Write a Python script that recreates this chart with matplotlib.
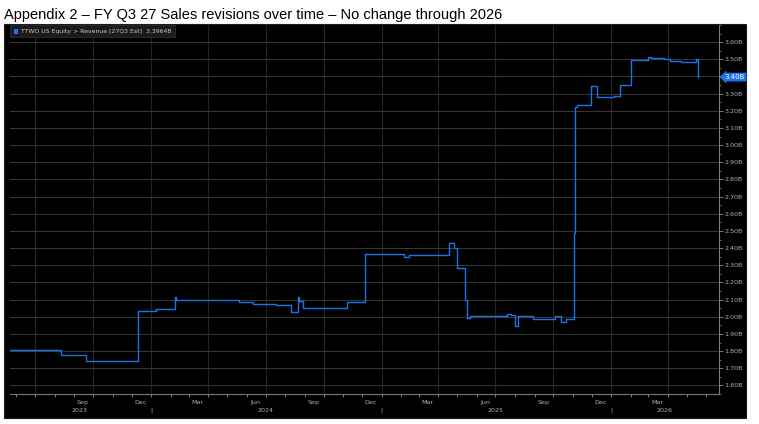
import pandas as pd
import numpy as np
import matplotlib
matplotlib.use("Agg")
import matplotlib.pyplot as plt
import matplotlib.dates as mdates
from matplotlib.patches import Rectangle

# revision history of the FY Q3 27 revenue estimate (USD bn)
rev_dates = ["2023-05-22", "2023-08-11", "2023-09-20", "2023-12-12", "2024-01-09",
             "2024-02-08", "2024-02-10", "2024-05-20", "2024-06-11", "2024-07-17",
             "2024-08-10", "2024-08-21", "2024-08-23", "2024-08-29", "2024-11-07",
             "2024-12-05", "2025-02-06", "2025-02-14", "2025-04-18", "2025-04-26",
             "2025-05-01", "2025-05-13", "2025-05-16", "2025-05-22", "2025-07-20",
             "2025-07-26", "2025-08-01", "2025-08-06", "2025-08-29", "2025-10-04",
             "2025-10-13", "2025-10-21", "2025-11-03", "2025-11-04", "2025-11-07",
             "2025-11-29", "2025-12-10", "2026-01-06", "2026-01-15", "2026-02-01",
             "2026-02-02", "2026-02-28", "2026-03-05", "2026-03-26", "2026-04-04",
             "2026-04-21", "2026-05-16", "2026-05-19"]
rev_values = [1.807, 1.777, 1.742, 2.036, 2.048,
              2.117, 2.098, 2.088, 2.077, 2.069,
              2.028, 2.117, 2.092, 2.053, 2.086,
              2.367, 2.349, 2.362, 2.428, 2.399,
              2.284, 2.100, 1.990, 2.002, 2.017,
              2.009, 1.946, 2.005, 1.986, 2.002,
              1.969, 1.986, 2.490, 3.225, 3.235,
              3.346, 3.281, 3.287, 3.350, 3.443,
              3.498, 3.513, 3.509, 3.500, 3.492,
              3.485, 3.503, 3.3964]

month_labels = ["Sep", "Dec", "Mar", "Jun", "Sep", "Dec", "Mar", "Jun", "Sep", "Dec", "Mar"]
month_pos = ["2023-09-15", "2023-12-15", "2024-03-15", "2024-06-15", "2024-09-15",
             "2024-12-15", "2025-03-15", "2025-06-15", "2025-09-15", "2025-12-15", "2026-03-15"]
year_labels = ["2023", "2024", "2025", "2026"]
year_pos = ["2023-09-10", "2024-07-01", "2025-07-01", "2026-03-27"]
year_breaks = ["2024-01-01", "2025-01-01", "2026-01-01"]
y_ticks = [1.6, 1.7, 1.8, 1.9, 2.0, 2.1, 2.2, 2.3, 2.4, 2.5, 2.6, 2.7, 2.8, 2.9,
           3.0, 3.1, 3.2, 3.3, 3.4, 3.5, 3.6]

W, H = 759, 424
fig = plt.figure(figsize=(W / 100, H / 100), dpi=100, facecolor="white")

def box(x0, y0, x1, y1):
    # pixel box (top-left origin) -> figure fraction rect
    return [x0 / W, 1 - y1 / H, (x1 - x0) / W, (y1 - y0) / H]

# black terminal panel
fig.patches.append(Rectangle((4 / W, 1 - 418 / H), 742 / W, 394 / H,
                             transform=fig.transFigure, facecolor="#000000",
                             edgecolor="#1e1e1e", lw=0.8, zorder=-5))

fig.text(4 / W, 1 - 19 / H, "Appendix 2 \u2013 FY Q3 27 Sales revisions over time \u2013 No change through 2026",
         fontsize=10.5, family="Liberation Sans", color="black", va="baseline", ha="left")

ax = fig.add_axes(box(10, 25, 719, 394))
ax.set_facecolor("#000000")

d = pd.to_datetime(rev_dates)
ax.step(d, rev_values, where="post", color="#1a73e8", lw=1.0, zorder=3)

ax.set_xlim(pd.Timestamp("2023-05-22"), pd.Timestamp("2026-06-21"))
ax.set_ylim(1.5597, 3.6865)

last_lab = "%.2fB" % round(rev_values[-1], 2)

# y axis on the right (the last-value tag sits over its own tick label)
ax.yaxis.tick_right()
ax.set_yticks(y_ticks)
ax.set_yticklabels(["" if "%.2fB" % v == last_lab else "%.2fB" % v for v in y_ticks])
ax.set_yticks(np.arange(1.55, 3.7, 0.05), minor=True)
ax.tick_params(axis="y", which="major", colors="#8a8a8a", labelcolor="#b0b0b0",
               labelsize=4.6, length=3, width=0.6, pad=1)
ax.tick_params(axis="y", which="minor", colors="#8a8a8a", length=1.5, width=0.5)

# x axis: quarter gridlines, monthly ticks, labels drawn by hand
ax.xaxis.set_major_locator(mdates.MonthLocator(bymonth=[1, 4, 7, 10]))
ax.xaxis.set_minor_locator(mdates.MonthLocator())
ax.tick_params(axis="x", which="both", colors="#8a8a8a", length=2.5, width=0.6,
               labelbottom=False)

ax.grid(axis="x", which="major", color="#262626", lw=0.8)
ax.grid(axis="y", which="major", color="#383838", lw=0.7)
ax.set_axisbelow(True)

for s in ["top", "left"]:
    ax.spines[s].set_visible(False)
for s in ["bottom", "right"]:
    ax.spines[s].set_color("#7a7a7a")
    ax.spines[s].set_linewidth(0.8)

tr = ax.get_xaxis_transform()
for lab, p in zip(month_labels, month_pos):
    ax.text(pd.Timestamp(p), -0.015, lab, transform=tr, ha="center", va="top",
            fontsize=4.6, color="#b0b0b0", clip_on=False)
for lab, p in zip(year_labels, year_pos):
    ax.text(pd.Timestamp(p), -0.037, lab, transform=tr, ha="center", va="top",
            fontsize=4.6, color="#b0b0b0", clip_on=False)
for p in year_breaks:
    ax.text(pd.Timestamp(p), -0.037, "|", transform=tr, ha="center", va="top",
            fontsize=4.6, color="#b0b0b0", clip_on=False)

# last value marker on the price axis
ax.annotate(last_lab, xy=(1.0, rev_values[-1]),
            xycoords=("axes fraction", "data"), xytext=(4, 0), textcoords="offset points",
            ha="left", va="center", fontsize=5, color="white",
            bbox=dict(boxstyle="larrow,pad=0.2", fc="#1a73e8", ec="none"))

# legend box
fig.patches.append(Rectangle((10 / W, 1 - 37 / H), 165 / W, 12 / H,
                             transform=fig.transFigure, facecolor="#1b1b1b",
                             edgecolor="#333333", lw=0.5, zorder=5))
fig.patches.append(Rectangle((14 / W, 1 - 34 / H), 4 / W, 5 / H,
                             transform=fig.transFigure, facecolor="#1a73e8",
                             edgecolor="none", zorder=6))
fig.text(21 / W, 1 - 31.5 / H, "TTWO US Equity > Revenue [27Q3 Est]  %.4fB" % rev_values[-1],
         fontsize=4.4, color="#c8c8c8", va="center", ha="left", zorder=7)

fig.savefig("out.png", dpi=100, facecolor="white")
